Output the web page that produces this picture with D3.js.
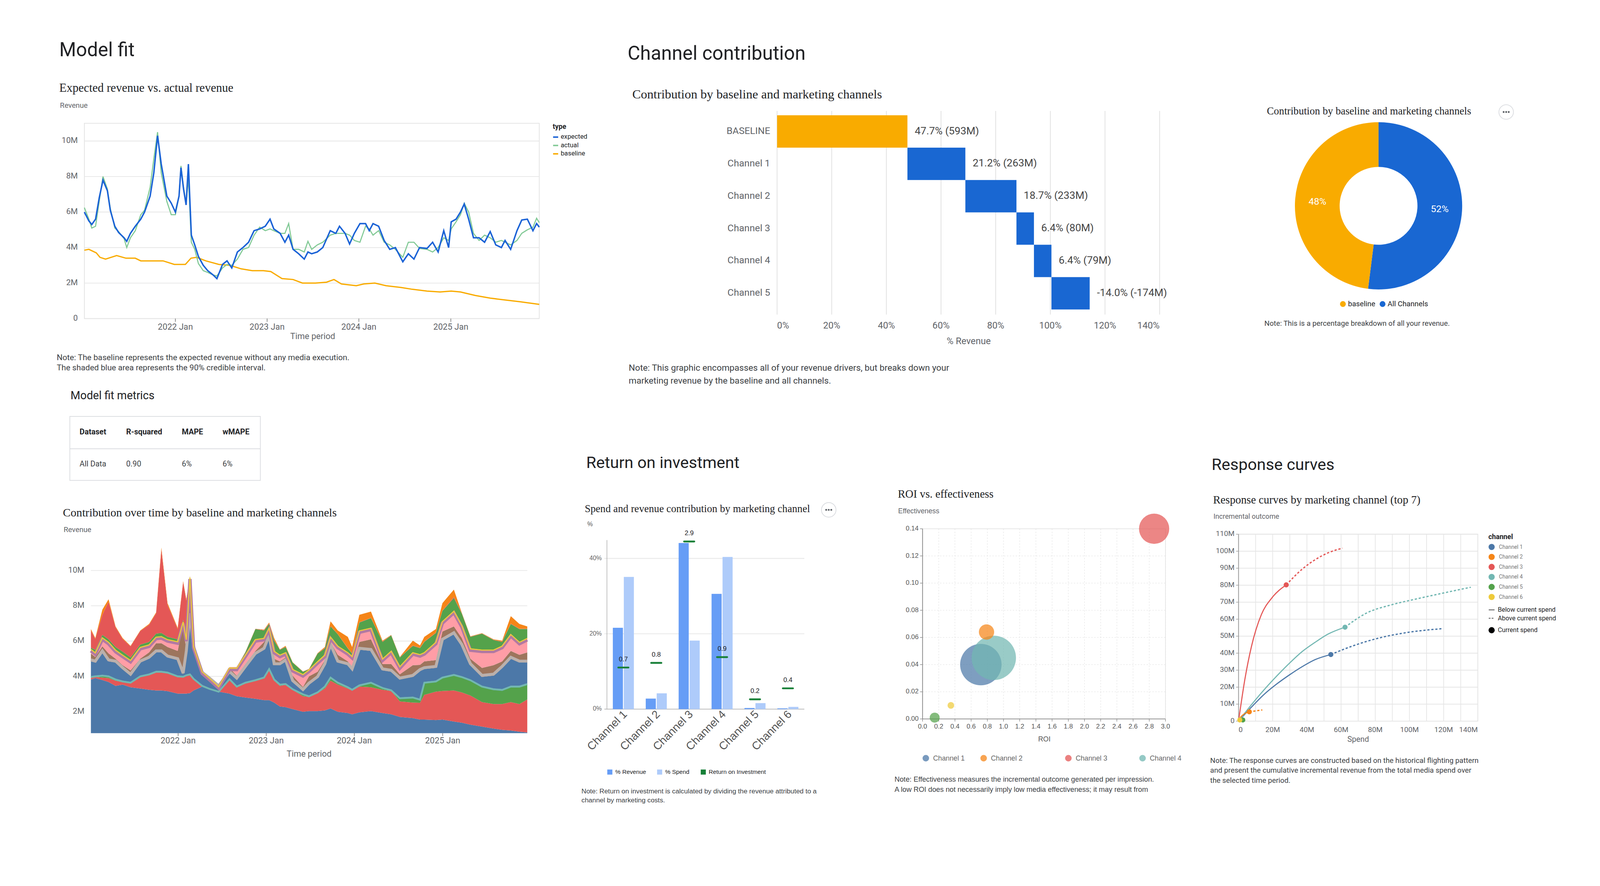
<!DOCTYPE html>
<html lang="en">
<head>
  <meta charset="UTF-8">
  <title>Model report</title>
  <script src="https://d3js.org/d3.v7.min.js"></script>
  <style>
    html, body { margin: 0; padding: 0; background: #fff; overflow: hidden; }
    svg { display: block; width: 100vw; height: 100vh; }
  </style>
</head>
<body>
<script>
// ---------- data ----------
// model fit (values in millions, time as decimal years)
const fitT = [2021.008,2021.057,2021.089,2021.130,2021.170,2021.211,2021.259,2021.291,2021.340,2021.381,2021.441,2021.470,2021.510,2021.563,2021.623,2021.664,2021.725,2021.765,2021.806,2021.846,2021.907,2021.955,2022.000,2022.040,2022.061,2022.089,2022.117,2022.142,2022.174,2022.211,2022.251,2022.304,2022.352,2022.413,2022.453,2022.514,2022.563,2022.615,2022.676,2022.737,2022.798,2022.858,2022.919,2022.980,2023.032,2023.073,2023.142,2023.194,2023.235,2023.283,2023.344,2023.405,2023.445,2023.486,2023.547,2023.607,2023.688,2023.749,2023.789,2023.850,2023.899,2023.951,2024.012,2024.073,2024.113,2024.154,2024.215,2024.275,2024.336,2024.397,2024.478,2024.538,2024.599,2024.660,2024.741,2024.802,2024.862,2024.923,2024.976,2025.004,2025.057,2025.105,2025.146,2025.194,2025.247,2025.308,2025.368,2025.429,2025.490,2025.551,2025.591,2025.652,2025.721,2025.773,2025.834,2025.895,2025.935,2025.964];
const expected = [6.0,5.5,5.3,5.6,6.8,7.8,7.2,6.1,5.2,4.85,4.55,4.35,4.8,5.2,5.6,6.0,6.9,8.2,10.3,8.7,6.9,6.5,6.0,6.9,8.5,7.3,6.4,8.7,4.7,4.15,3.5,3.0,2.7,2.45,2.25,3.05,3.25,2.85,3.75,4.0,4.3,4.95,5.05,5.2,5.6,5.05,4.8,4.3,4.7,3.9,3.65,3.35,3.75,3.65,3.75,4.0,4.95,4.8,5.2,4.8,4.2,4.8,5.35,5.35,4.95,5.35,5.2,4.4,3.9,4.0,3.2,3.65,3.35,4.0,3.95,4.3,3.75,4.95,4.0,5.45,5.6,6.0,6.45,5.6,4.55,4.55,4.3,4.9,4.15,4.0,4.4,3.9,4.95,5.55,5.6,4.95,5.35,5.15];
const actual = [6.25,5.6,5.1,5.2,6.6,8.0,7.3,6.2,5.1,4.9,4.5,4.0,4.55,4.95,5.85,6.1,7.4,9.0,10.5,8.2,6.6,5.85,5.85,6.9,8.6,7.4,6.5,7.9,4.3,3.9,3.1,2.7,2.6,2.45,2.4,2.85,3.05,3.0,3.35,3.9,4.0,4.7,5.15,4.95,5.05,4.95,4.8,4.8,5.35,3.9,3.9,3.75,4.35,3.9,4.15,4.3,4.7,4.8,4.8,4.8,4.7,4.4,4.3,5.2,5.05,4.7,4.95,4.3,4.15,3.9,3.45,4.3,4.3,3.95,3.9,3.75,4.0,4.55,4.4,5.05,5.45,5.85,6.5,6.0,4.8,4.4,4.7,4.55,4.3,4.4,4.3,4.15,4.4,4.8,5.0,5.15,5.65,5.4];
const baseT = [2021.008,2021.057,2021.138,2021.178,2021.239,2021.299,2021.360,2021.462,2021.563,2021.623,2021.745,2021.866,2021.988,2022.109,2022.170,2022.231,2022.332,2022.474,2022.595,2022.717,2022.838,2022.960,2023.040,2023.162,2023.283,2023.385,2023.526,2023.648,2023.729,2023.810,2023.972,2024.053,2024.174,2024.296,2024.458,2024.580,2024.741,2024.883,2025.004,2025.105,2025.267,2025.429,2025.591,2025.753,2025.964];
const baseline = [3.85,3.9,3.7,3.45,3.35,3.45,3.55,3.4,3.4,3.25,3.25,3.25,3.05,3.05,3.4,3.45,3.25,3.05,3.0,2.8,2.7,2.7,2.65,2.25,2.2,2.0,2.0,2.05,2.2,1.95,1.85,1.95,2.0,1.85,1.75,1.65,1.55,1.5,1.55,1.5,1.3,1.15,1.05,0.95,0.8];

const metricCols = ["Dataset", "R-squared", "MAPE", "wMAPE"];
const metricRow = ["All Data", "0.90", "6%", "6%"];

// contribution over time: cumulative tops of each band (millions)
const stackT = [2021.01,2021.06,2021.14,2021.21,2021.29,2021.37,2021.46,2021.57,2021.67,2021.75,2021.81,2021.88,2021.995,2022.057,2022.093,2022.134,2022.175,2022.273,2022.355,2022.46,2022.583,2022.665,2022.763,2022.877,2022.975,2023.033,2023.09,2023.155,2023.22,2023.30,2023.417,2023.485,2023.583,2023.665,2023.73,2023.812,2023.926,2023.975,2024.057,2024.188,2024.319,2024.417,2024.515,2024.662,2024.743,2024.792,2024.923,2024.997,2025.127,2025.217,2025.315,2025.446,2025.577,2025.675,2025.773,2025.871,2025.96];
const topBase = [3.82,3.9,3.79,3.68,3.46,3.53,3.38,3.31,3.24,3.2,3.2,3.16,3.02,3.02,3.02,3.05,3.2,3.42,3.28,3.13,3.02,2.87,2.8,2.73,2.65,2.65,2.51,2.29,2.25,2.14,1.99,2.03,2.03,2.07,2.18,1.99,1.92,1.85,1.96,2.03,1.92,1.85,1.7,1.63,1.55,1.55,1.52,1.55,1.44,1.37,1.26,1.15,1.04,0.97,0.93,0.86,0.82];
const topRed1 = [3.93,3.97,3.93,3.9,3.75,3.68,3.6,3.97,4.08,4.23,4.23,4.2,4.0,3.97,4.04,4.12,3.85,3.46,3.3,3.15,3.82,3.38,3.6,3.75,3.9,4.34,3.75,3.46,3.53,3.24,2.87,2.84,3.06,3.31,3.75,3.53,3.31,3.2,3.42,3.38,3.24,3.17,2.58,2.51,2.5,2.95,3.13,3.17,3.2,3.09,2.91,2.54,2.43,2.43,2.54,2.43,2.69];
const topGreen1 = [4.0,4.04,4.08,4.04,3.86,3.75,3.68,4.04,4.15,4.3,4.3,4.25,4.04,4.02,4.1,4.15,3.9,3.5,3.33,3.17,3.88,3.46,3.68,3.82,3.97,4.45,3.86,3.57,3.6,3.31,3.02,2.91,3.13,3.46,3.97,3.68,3.42,3.28,3.53,3.68,3.38,3.25,2.8,2.84,2.72,3.68,3.75,3.97,4.12,4.0,3.82,3.46,3.31,3.27,3.46,3.46,3.6];
const topBlue2 = [4.85,4.78,5.36,4.85,4.78,4.41,4.04,4.78,5.0,5.36,5.36,5.07,4.92,4.1,5.36,7.5,5.62,4.15,3.82,3.38,4.19,3.82,4.48,5.22,5.51,6.24,4.63,4.63,4.85,3.68,3.17,3.53,3.9,4.63,5.73,4.78,4.63,4.34,5.51,5.44,4.34,4.26,3.82,3.97,4.3,4.41,4.48,6.02,6.39,5.73,4.63,3.97,4.04,4.48,5.0,4.78,4.78];
const topBrown = [5.29,5.1,5.7,5.3,5.0,4.63,4.34,5.0,5.36,5.88,5.88,5.66,5.44,7.0,5.44,9.6,5.68,4.26,3.9,3.42,4.48,4.04,4.7,5.44,5.95,6.38,5.0,4.85,5.07,4.04,3.4,4.0,4.26,4.92,5.95,5.22,4.85,4.56,5.95,6.1,4.7,4.7,4.12,4.63,4.65,4.85,4.92,6.54,6.83,6.17,5.0,4.48,4.63,4.85,5.44,5.22,5.36];
const topPink = [5.55,5.35,6.2,5.95,5.5,5.22,4.92,5.66,5.8,6.24,6.27,6.1,5.98,7.1,6.1,9.62,5.71,4.27,3.91,3.43,4.49,4.48,5.22,6.1,6.17,6.75,5.44,5.22,5.36,4.41,4.12,4.38,4.85,5.22,6.24,5.73,5.36,5.14,6.6,6.75,5.0,5.44,4.56,5.36,5.25,5.36,5.95,7.12,7.71,6.9,5.58,5.51,5.51,5.73,6.39,5.95,6.17];
const topGreen2 = [5.62,5.5,6.35,6.1,5.66,5.4,5.07,5.8,5.95,6.42,6.46,6.24,6.1,7.2,6.24,9.64,5.72,4.28,3.92,3.44,4.5,4.5,5.36,6.68,6.6,6.97,6.02,5.51,5.66,4.78,4.26,4.4,5.29,5.58,6.83,6.39,5.58,5.29,7.05,7.3,5.95,6.32,5.07,5.73,5.6,5.95,6.46,7.71,8.44,7.56,6.24,6.42,6.06,5.95,6.97,6.68,6.68];
const topRed2 = [6.6,6.12,7.49,8.22,6.78,6.12,5.7,6.57,6.92,7.58,11.2,8.05,6.68,9.35,8.3,9.66,5.73,4.29,3.93,3.45,4.51,4.51,5.37,6.69,6.62,7.0,6.05,5.52,5.68,4.79,4.27,4.41,5.3,5.6,6.85,6.4,5.6,5.3,7.07,7.32,5.97,6.33,5.08,5.75,5.62,5.97,6.48,7.73,8.5,7.58,6.25,6.43,6.07,5.97,6.99,6.7,6.7];
const topOrange = [6.68,6.17,7.78,8.37,6.83,6.17,5.73,6.6,6.97,7.63,11.3,8.15,6.75,9.4,8.37,9.7,5.74,4.3,3.94,3.46,4.52,4.52,5.38,6.7,6.65,7.05,6.17,5.53,5.73,4.8,4.28,4.42,5.32,5.66,7.12,6.6,6.24,5.66,7.49,7.67,6.02,6.35,5.1,6.02,5.75,6.24,6.68,8.15,8.92,7.6,6.27,6.45,6.1,6.02,7.41,6.97,6.83];

// channel contribution (waterfall)
const wfCats = ["BASELINE", "Channel 1", "Channel 2", "Channel 3", "Channel 4", "Channel 5"];
const wfPct = [47.7, 21.2, 18.7, 6.4, 6.4, -14.0];
const wfRev = [593, 263, 233, 80, 79, -174];
const wfTicks = [0, 20, 40, 60, 80, 100, 120, 140];

// donut
const donutLabels = ["All Channels", "baseline"];
const donutShare = [52, 48];

// return on investment
const roiChannels = ["Channel 1", "Channel 2", "Channel 3", "Channel 4", "Channel 5", "Channel 6"];
const pctRevenue = [21.6, 2.8, 44.1, 30.6, 0.3, 0.2];
const pctSpend = [35.1, 4.2, 18.2, 40.4, 1.6, 0.6];
const roi = [0.72, 0.8, 2.9, 0.9, 0.17, 0.36];

// ROI vs effectiveness
const effectiveness = [0.040, 0.064, 0.140, 0.045, 0.001, 0.010];
const bubbleRoi = [0.72, 0.79, 2.86, 0.88, 0.15, 0.35];

// response curves (millions)
const respSpend = [
  [0, 7.5, 14.9, 22.4, 29.9, 37.3, 44.8, 54.0, 67.2, 82.1, 97.0, 118.7],
  [0, 1.5, 6.3, 13.9],
  [0, 3.7, 7.5, 13.4, 19.4, 27.9, 37.3, 44.8, 52.3, 60.8],
  [0, 7.5, 14.9, 22.4, 29.9, 37.3, 44.8, 52.3, 62.3, 74.7, 89.6, 104.5, 119.4, 135.9],
  [0, 2.5, 4.9],
  [0, 0.75, 1.2]
];
const respOut = [
  [0, 8.2, 15.7, 21.9, 27.3, 32.1, 36.2, 39.2, 44.4, 48.9, 51.9, 54.4],
  [0, 2.7, 5.5, 6.6],
  [0, 24.6, 43.7, 62.8, 72.4, 80.2, 89.5, 95.0, 99.0, 101.8],
  [0, 9.6, 18.4, 26.6, 34.2, 41.0, 46.4, 51.2, 55.3, 63.5, 68.5, 72.0, 75.3, 78.8],
  [0, 0.7, 0.9],
  [0, 0.7, 0.8]
];
const currentIdx = [7, 2, 5, 8, 1, 1];

const vega = ["#4c78a8", "#f58518", "#e45756", "#72b7b2", "#54a24b", "#eeca3b"];

// ---------- drawing ----------
const svg = d3.select("body").append("svg").attr("viewBox", "0 0 4400 2268").attr("preserveAspectRatio", "xMinYMin meet");
const SANS = "Roboto, 'Noto Sans', sans-serif";
const SERIF = "'Liberation Serif', 'DejaVu Serif', serif";
const ARIAL = "'Liberation Sans', Arial, sans-serif";
const FS = 1.06; // text looked a touch small against the reference

function text(x, y, s, size, o = {}) {
  return svg.append("text").attr("x", x).attr("y", y).text(s)
    .attr("font-family", o.font || SANS).attr("font-size", size * FS)
    .attr("fill", o.fill || "#3c4043").attr("text-anchor", o.anchor || "start")
    .attr("font-weight", o.weight || "normal").attr("dominant-baseline", "middle");
}
const yd = t => {
  const y = Math.floor(t), a = Date.UTC(y, 0, 1), b = Date.UTC(y + 1, 0, 1);
  return new Date(a + (t - y) * (b - a));
};
const yearTicks = [2022, 2023, 2024, 2025];

// ===== Model fit =====
text(163, 141, "Model fit", 50, { fill: "#202124" });
text(163, 245, "Expected revenue vs. actual revenue", 31, { font: SERIF, fill: "#202124" });
text(165, 291, "Revenue", 19, { fill: "#5f6368" });

const xFit = d3.scaleTime().domain([yd(2021.008), yd(2025.964)]).range([232, 1483]);
const yFit = d3.scaleLinear().domain([0, 11]).range([876, 339]);
const gFit = svg.append("g");
gFit.append("rect").attr("x", 232).attr("y", 339).attr("width", 1251).attr("height", 537)
  .attr("fill", "none").attr("stroke", "#e3e3e3").attr("stroke-width", 2);
[0, 2, 4, 6, 8, 10].forEach(v => {
  gFit.append("line").attr("x1", 232).attr("x2", 1483).attr("y1", yFit(v)).attr("y2", yFit(v))
    .attr("stroke", "#e6e6e6").attr("stroke-width", 2);
  text(214, yFit(v), v === 0 ? "0" : v + "M", 21, { anchor: "end", fill: "#5f6368" });
});
yearTicks.forEach(y => {
  const x = xFit(yd(y));
  gFit.append("line").attr("x1", x).attr("x2", x).attr("y1", 876).attr("y2", 885).attr("stroke", "#888").attr("stroke-width", 2);
  text(x, 900, y + " Jan", 22, { anchor: "middle", fill: "#5f6368" });
});
text(860, 926, "Time period", 22, { anchor: "middle", fill: "#5f6368" });
const fitLine = arr => d3.line().x((d, i) => xFit(yd(fitT[i]))).y(d => yFit(d))(arr);
gFit.append("path").attr("d", d3.line().x((d, i) => xFit(yd(baseT[i]))).y(d => yFit(d))(baseline))
  .attr("fill", "none").attr("stroke", "#f9ab00").attr("stroke-width", 3.5);
gFit.append("path").attr("d", fitLine(actual)).attr("fill", "none").attr("stroke", "#81c995").attr("stroke-width", 3);
gFit.append("path").attr("d", fitLine(expected)).attr("fill", "none").attr("stroke", "#1a62d6").attr("stroke-width", 4);
text(1520, 349, "type", 18, { weight: "bold", fill: "#202124" });
[["expected", "#1a62d6"], ["actual", "#81c995"], ["baseline", "#f9ab00"]].forEach((d, i) => {
  const y = 377 + i * 23;
  gFit.append("line").attr("x1", 1521).attr("x2", 1535).attr("y1", y).attr("y2", y).attr("stroke", d[1]).attr("stroke-width", 4);
  text(1542, y, d[0], 17, { fill: "#202124" });
});
text(156, 985, "Note: The baseline represents the expected revenue without any media execution.", 21);
text(156, 1013, "The shaded blue area represents the 90% credible interval.", 21);

// ===== Model fit metrics =====
text(194, 1090, "Model fit metrics", 29, { fill: "#202124" });
svg.append("rect").attr("x", 192).attr("y", 1145).attr("width", 524).attr("height", 176)
  .attr("fill", "none").attr("stroke", "#dadce0").attr("stroke-width", 2);
svg.append("line").attr("x1", 192).attr("x2", 716).attr("y1", 1234).attr("y2", 1234).attr("stroke", "#dadce0").attr("stroke-width", 2);
const colX = [219, 347, 500, 612];
metricCols.forEach((c, i) => text(colX[i], 1189, c, 20, { weight: "bold", fill: "#202124" }));
metricRow.forEach((c, i) => text(colX[i], 1277, c, 20, { fill: "#3c4043" }));

// ===== Contribution over time =====
text(173, 1413, "Contribution over time by baseline and marketing channels", 30, { font: SERIF, fill: "#202124" });
text(175, 1458, "Revenue", 19, { fill: "#5f6368" });
const xSt = d3.scaleTime().domain([yd(2021.01), yd(2025.96)]).range([250, 1450]);
const ySt = d3.scaleLinear().domain([0.78, 11.5]).range([2016, 1496]);
const gSt = svg.append("g");
[2, 4, 6, 8, 10].forEach(v => {
  gSt.append("line").attr("x1", 250).attr("x2", 1450).attr("y1", ySt(v)).attr("y2", ySt(v))
    .attr("stroke", "#e6e6e6").attr("stroke-width", 2);
  text(232, ySt(v), v + "M", 21, { anchor: "end", fill: "#5f6368" });
});
const bottom = stackT.map(() => 0.78);
const bands = [
  [bottom, topBase, "#4c78a8"], [topBase, topRed1, "#e45756"], [topRed1, topGreen1, "#54a24b"],
  [topGreen1, topBlue2, "#4c78a8"], [topBlue2, topBrown, "#9d755d"], [topBrown, topPink, "#ff9da6"],
  [topPink, topGreen2, "#54a24b"], [topGreen2, topRed2, "#e45756"], [topRed2, topOrange, "#f58518"]
];
bands.forEach(([lo, hi, c]) => {
  gSt.append("path").attr("fill", c).attr("d", d3.area()
    .x((d, i) => xSt(yd(stackT[i]))).y0((d, i) => ySt(lo[i])).y1((d, i) => ySt(hi[i]))(hi));
});
// thin layers drawn as strips along band edges
const edge = (arr, c, w, dy) => gSt.append("path").attr("fill", "none").attr("stroke", c).attr("stroke-width", w)
  .attr("transform", `translate(0,${dy})`)
  .attr("d", d3.line().x((d, i) => xSt(yd(stackT[i]))).y(d => ySt(d))(arr));
edge(topGreen1, "#72b7b2", 5, 2);
edge(topBlue2, "#bab0ac", 8, -4);
edge(topPink, "#b279a2", 9, 5);
edge(topPink, "#eeca3b", 3, 1);
yearTicks.forEach(y => {
  const x = xSt(yd(y));
  gSt.append("line").attr("x1", x).attr("x2", x).attr("y1", 2016).attr("y2", 2024).attr("stroke", "#888").attr("stroke-width", 2);
  text(x, 2038, y + " Jan", 22, { anchor: "middle", fill: "#5f6368" });
});
text(850, 2075, "Time period", 22, { anchor: "middle", fill: "#5f6368" });

// ===== Channel contribution =====
text(1726, 150, "Channel contribution", 50, { fill: "#202124" });
text(1739, 263, "Contribution by baseline and marketing channels", 33, { font: SERIF, fill: "#202124" });
const xWf = d3.scaleLinear().domain([0, 140]).range([2137, 3189]);
const yWf = d3.scaleBand().domain(wfCats).range([317, 851]).padding(0);
wfTicks.forEach((t, i) => {
  svg.append("line").attr("x1", xWf(t)).attr("x2", xWf(t)).attr("y1", 305).attr("y2", 865)
    .attr("stroke", "#e0e0e0").attr("stroke-width", 2);
  text(xWf(t), 897, t + "%", 24, { anchor: i === 0 ? "start" : i === wfTicks.length - 1 ? "end" : "middle", fill: "#5f6368" });
});
text(2664, 940, "% Revenue", 24, { anchor: "middle", fill: "#5f6368" });
let cum = 0;
wfCats.forEach((c, i) => {
  const x0 = cum, x1 = cum + Math.abs(wfPct[i]);
  cum += wfPct[i];
  svg.append("rect").attr("x", xWf(x0)).attr("width", xWf(x1) - xWf(x0)).attr("y", yWf(c)).attr("height", yWf.bandwidth())
    .attr("fill", i === 0 ? "#f9ab00" : "#1967d2");
  text(2118, yWf(c) + yWf.bandwidth() / 2, c, 25, { anchor: "end", fill: "#5f6368" });
  text(xWf(x1) + 20, yWf(c) + yWf.bandwidth() / 2, `${wfPct[i].toFixed(1)}% (${wfRev[i]}M)`, 27, { fill: "#444" });
});
text(1729, 1013, "Note: This graphic encompasses all of your revenue drivers, but breaks down your", 23);
text(1729, 1048, "marketing revenue by the baseline and all channels.", 23);

// ===== Donut =====
text(3484, 308, "Contribution by baseline and marketing channels", 27, { font: SERIF, fill: "#202124" });
function moreButton(cx, cy) {
  svg.append("circle").attr("cx", cx).attr("cy", cy).attr("r", 20).attr("fill", "#fff").attr("stroke", "#dadce0").attr("stroke-width", 2);
  [-7, 0, 7].forEach(dx => svg.append("circle").attr("cx", cx + dx).attr("cy", cy).attr("r", 2.6).attr("fill", "#5f6368"));
}
moreButton(4142, 308);
const donutColors = ["#1967d2", "#f9ab00"];
const pie = d3.pie().sort(null).value(d => d)(donutShare);
const arc = d3.arc().innerRadius(107).outerRadius(230);
const gD = svg.append("g").attr("transform", "translate(3791,566)");
gD.selectAll("path").data(pie).join("path").attr("d", arc).attr("fill", (d, i) => donutColors[i]);
gD.selectAll("text").data(pie).join("text").attr("transform", d => `translate(${arc.centroid(d)})`)
  .attr("text-anchor", "middle").attr("dominant-baseline", "middle").attr("fill", "#fff")
  .attr("font-family", SANS).attr("font-size", 25 * FS).text(d => d.value + "%");
[[3693, 1], [3802, 0]].forEach(([x, i]) => {
  svg.append("circle").attr("cx", x).attr("cy", 836).attr("r", 8).attr("fill", donutColors[i]);
  text(x + 14, 837, donutLabels[i], 19, { fill: "#202124" });
});
text(3477, 891, "Note: This is a percentage breakdown of all your revenue.", 19);

// ===== Return on investment =====
text(1612, 1275, "Return on investment", 42, { fill: "#202124" });
text(1608, 1402, "Spend and revenue contribution by marketing channel", 27, { font: SERIF, fill: "#202124" });
moreButton(2279, 1402);
text(1615, 1442, "%", 16, { font: ARIAL, fill: "#555" });
const xR = d3.scaleBand().domain(roiChannels).range([1669, 2212]).paddingInner(0.36).paddingOuter(0.18);
const xRi = d3.scaleBand().domain(["rev", "spend"]).range([0, xR.bandwidth()]).paddingInner(0.08);
const yR = d3.scaleLinear().domain([0, 44.6]).range([1950, 1488]);
const yRoi = d3.scaleLinear().domain([0, 2.9]).range([1950, 1489]);
[0, 20, 40].forEach(v => {
  svg.append("line").attr("x1", 1662).attr("x2", 2212).attr("y1", yR(v)).attr("y2", yR(v)).attr("stroke", v ? "#e6e6e6" : "#bbb").attr("stroke-width", 2);
  text(1655, yR(v), v + "%", 16, { font: ARIAL, anchor: "end", fill: "#666" });
});
svg.append("line").attr("x1", 1669).attr("x2", 1669).attr("y1", 1485).attr("y2", 1950).attr("stroke", "#aaa").attr("stroke-width", 1.5);
roiChannels.forEach((c, i) => {
  const x = xR(c);
  svg.append("rect").attr("x", x + xRi("rev")).attr("width", xRi.bandwidth()).attr("y", yR(pctRevenue[i]))
    .attr("height", yR(0) - yR(pctRevenue[i])).attr("fill", "#669df6");
  svg.append("rect").attr("x", x + xRi("spend")).attr("width", xRi.bandwidth()).attr("y", yR(pctSpend[i]))
    .attr("height", yR(0) - yR(pctSpend[i])).attr("fill", "#aecbfa");
  const cx = x + xR.bandwidth() / 2;
  svg.append("line").attr("x1", cx - 14).attr("x2", cx + 14).attr("y1", yRoi(roi[i])).attr("y2", yRoi(roi[i]))
    .attr("stroke", "#188038").attr("stroke-width", 5).attr("stroke-linecap", "round");
  text(cx, yRoi(roi[i]) - 22, roi[i].toFixed(1), 17, { font: ARIAL, anchor: "middle", fill: "#202124" });
  svg.append("text").attr("transform", `translate(${cx + 12},${1966}) rotate(-45)`).attr("text-anchor", "end")
    .attr("font-family", ARIAL).attr("font-size", 29 * FS).attr("fill", "#555").text(c);
});
[["% Revenue", "#669df6", 1677], ["% Spend", "#aecbfa", 1814], ["Return on Investment", "#188038", 1934]].forEach(d => {
  svg.append("rect").attr("x", d[2] - 7).attr("y", 2116).attr("width", 14).attr("height", 14).attr("fill", d[1]);
  text(d[2] + 15, 2124, d[0], 15.5, { font: ARIAL, fill: "#202124" });
});
text(1599, 2177, "Note: Return on investment is calculated by dividing the revenue attributed to a", 17.5, { font: ARIAL });
text(1599, 2202, "channel by marketing costs.", 17.5, { font: ARIAL });

// ===== ROI vs effectiveness =====
text(2469, 1362, "ROI vs. effectiveness", 29, { font: SERIF, fill: "#202124" });
text(2470, 1407, "Effectiveness", 18, { font: ARIAL, fill: "#5f6368" });
const xB = d3.scaleLinear().domain([0, 3]).range([2537, 3205]);
const yB = d3.scaleLinear().domain([0, 0.14]).range([1977, 1454]);
const rB = d3.scaleSqrt().domain([0, 40.4]).range([0, 59]);
const xbTicks = d3.range(0, 3.01, 0.2), ybTicks = d3.range(0, 0.141, 0.02);
svg.append("rect").attr("x", 2537).attr("y", 1454).attr("width", 668).attr("height", 523).attr("fill", "none").attr("stroke", "#ddd").attr("stroke-width", 1.5);
xbTicks.forEach(t => {
  svg.append("line").attr("x1", xB(t)).attr("x2", xB(t)).attr("y1", 1454).attr("y2", 1977).attr("stroke", "#ddd").attr("stroke-dasharray", "4,4");
  svg.append("line").attr("x1", xB(t)).attr("x2", xB(t)).attr("y1", 1977).attr("y2", 1984).attr("stroke", "#888").attr("stroke-width", 1.5);
  text(xB(t), 1999, t.toFixed(1), 17, { font: ARIAL, anchor: "middle", fill: "#555" });
});
ybTicks.forEach(t => {
  svg.append("line").attr("x1", 2537).attr("x2", 3205).attr("y1", yB(t)).attr("y2", yB(t)).attr("stroke", "#ddd").attr("stroke-dasharray", "4,4");
  svg.append("line").attr("x1", 2530).attr("x2", 2537).attr("y1", yB(t)).attr("y2", yB(t)).attr("stroke", "#888").attr("stroke-width", 1.5);
  text(2526, yB(t), t.toFixed(2), 17, { font: ARIAL, anchor: "end", fill: "#555" });
});
svg.append("path").attr("d", "M2537,1454V1977H3205").attr("fill", "none").attr("stroke", "#888").attr("stroke-width", 2);
text(2872, 2034, "ROI", 18, { font: ARIAL, anchor: "middle", fill: "#555" });
const bubbleOrder = [0, 3, 1, 2, 4, 5];
bubbleOrder.forEach(i => {
  svg.append("circle").attr("cx", xB(bubbleRoi[i])).attr("cy", yB(effectiveness[i])).attr("r", rB(pctSpend[i]) + 2)
    .attr("fill", vega[i]).attr("fill-opacity", 0.72);
});
[2546, 2705, 2938, 3142].forEach((x, i) => {
  svg.append("circle").attr("cx", x).attr("cy", 2085).attr("r", 9).attr("fill", vega[i]).attr("fill-opacity", 0.75);
  text(x + 20, 2086, roiChannels[i], 18, { font: ARIAL, fill: "#666" });
});
text(2460, 2144, "Note: Effectiveness measures the incremental outcome generated per impression.", 18.5, { font: ARIAL });
text(2460, 2172, "A low ROI does not necessarily imply low media effectiveness; it may result from", 18.5, { font: ARIAL });

// ===== Response curves =====
text(3332, 1281, "Response curves", 42, { fill: "#202124" });
text(3336, 1378, "Response curves by marketing channel (top 7)", 29, { font: SERIF, fill: "#202124" });
text(3337, 1421, "Incremental outcome", 18, { fill: "#5f6368" });
const xC = d3.scaleLinear().domain([0, 140]).range([3406, 4064]);
const yC = d3.scaleLinear().domain([0, 110]).range([1983, 1469]);
svg.append("rect").attr("x", 3406).attr("y", 1469).attr("width", 658).attr("height", 514).attr("fill", "none").attr("stroke", "#e3e3e3").attr("stroke-width", 2);
d3.range(10, 141, 10).forEach(t => svg.append("line").attr("x1", xC(t)).attr("x2", xC(t)).attr("y1", 1469).attr("y2", 1983).attr("stroke", "#e6e6e6").attr("stroke-width", 2));
d3.range(0, 111, 10).forEach(t => {
  svg.append("line").attr("x1", 3406).attr("x2", 4064).attr("y1", yC(t)).attr("y2", yC(t)).attr("stroke", "#e6e6e6").attr("stroke-width", 2);
  svg.append("line").attr("x1", 3399).attr("x2", 3406).attr("y1", yC(t)).attr("y2", yC(t)).attr("stroke", "#999").attr("stroke-width", 1.5);
  text(3395, yC(t), t === 0 ? "0" : t + "M", 19, { anchor: "end", fill: "#5f6368" });
});
svg.append("line").attr("x1", 3406).attr("x2", 3406).attr("y1", 1469).attr("y2", 1983).attr("stroke", "#999").attr("stroke-width", 2);
d3.range(0, 141, 20).forEach((t, i, a) => text(xC(t), 2008, t === 0 ? "0" : t + "M", 19,
  { anchor: i === 0 ? "start" : i === a.length - 1 ? "end" : "middle", fill: "#5f6368" }));
text(3735, 2034, "Spend", 20, { anchor: "middle", fill: "#5f6368" });
const curve = d3.line().curve(d3.curveMonotoneX).x(d => xC(d[0])).y(d => yC(d[1]));
[0, 3, 2, 1, 4, 5].forEach(ch => {
  const pts = respSpend[ch].map((s, j) => [s, respOut[ch][j]]);
  const k = currentIdx[ch];
  svg.append("path").attr("d", curve(pts.slice(0, k + 1))).attr("fill", "none").attr("stroke", vega[ch]).attr("stroke-width", 3);
  svg.append("path").attr("d", curve(pts.slice(k))).attr("fill", "none").attr("stroke", vega[ch]).attr("stroke-width", 3.5).attr("stroke-dasharray", "6,5");
  svg.append("circle").attr("cx", xC(pts[k][0])).attr("cy", yC(pts[k][1])).attr("r", 7).attr("fill", vega[ch]);
});
text(4093, 1477, "channel", 18, { weight: "bold", fill: "#202124" });
roiChannels.forEach((c, i) => {
  const y = 1504 + i * 27.5;
  svg.append("circle").attr("cx", 4102).attr("cy", y).attr("r", 8.5).attr("fill", vega[i]);
  text(4122, y + 1, c, 14, { fill: "#777" });
});
svg.append("line").attr("x1", 4094).attr("x2", 4110).attr("y1", 1677).attr("y2", 1677).attr("stroke", "#666").attr("stroke-width", 2.5);
text(4119, 1678, "Below current spend", 16.5, { fill: "#202124" });
svg.append("line").attr("x1", 4094).attr("x2", 4110).attr("y1", 1700).attr("y2", 1700).attr("stroke", "#666").attr("stroke-width", 2.5).attr("stroke-dasharray", "5,3");
text(4119, 1701, "Above current spend", 16.5, { fill: "#202124" });
svg.append("circle").attr("cx", 4102).attr("cy", 1733).attr("r", 8.5).attr("fill", "#000");
text(4119, 1734, "Current spend", 16.5, { fill: "#202124" });
text(3328, 2093, "Note: The response curves are constructed based on the historical flighting pattern", 19);
text(3328, 2120, "and present the cumulative incremental revenue from the total media spend over", 19);
text(3328, 2147, "the selected time period.", 19);
</script>
</body>
</html>
